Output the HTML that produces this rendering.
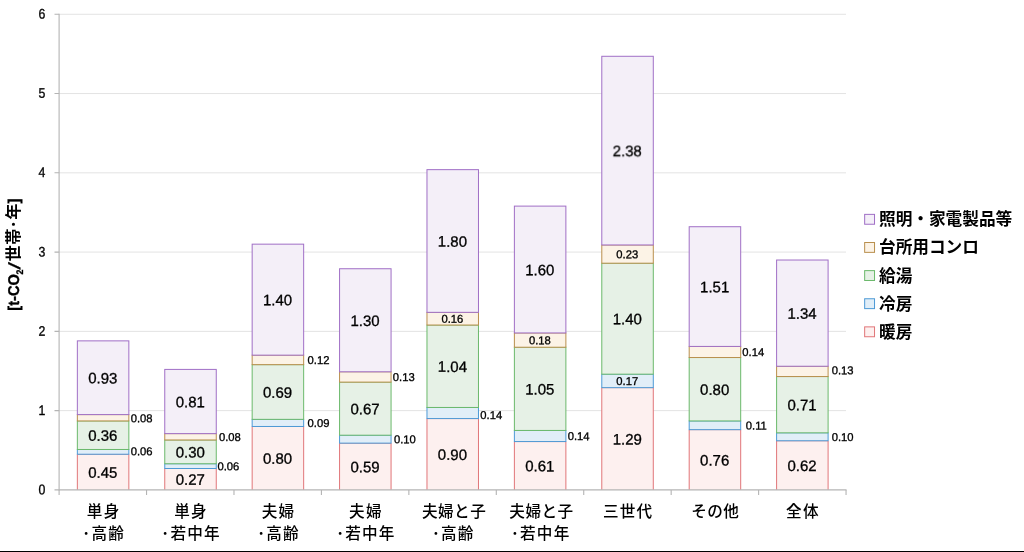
<!DOCTYPE html>
<html lang="ja">
<head>
<meta charset="utf-8">
<title>世帯類型別 用途別CO2排出量</title>
<style>
html,body{margin:0;padding:0;background:#fff;}
body{width:1024px;height:552px;overflow:hidden;font-family:"Liberation Sans",sans-serif;}
svg{display:block;will-change:transform;}
.s0{fill:#fdf0ef;stroke:#e17679;}
.s1{fill:#e1eef8;stroke:#4d9ad6;}
.s2{fill:#e6f1e6;stroke:#6bb96b;}
.s3{fill:#fcf3e6;stroke:#b98f4d;}
.s4{fill:#f4eff8;stroke:#a06fc6;}
.f0{fill:#fdf0ef;stroke:none;}
.l0{fill:none;stroke:#e17679;}
</style>
</head>
<body>
<svg width="1024" height="552" viewBox="0 0 1024 552">
<rect width="1024" height="552" fill="#fff"/>
<g id="gridlines" stroke="#e3e3e3" stroke-width="1">
<line x1="59.1" x2="846.0" y1="410.63" y2="410.63"/>
<line x1="59.1" x2="846.0" y1="331.36" y2="331.36"/>
<line x1="59.1" x2="846.0" y1="252.09" y2="252.09"/>
<line x1="59.1" x2="846.0" y1="172.82" y2="172.82"/>
<line x1="59.1" x2="846.0" y1="93.55" y2="93.55"/>
<line x1="59.1" x2="846.0" y1="14.28" y2="14.28"/>
</g>
<g id="bars" stroke-width="1">
<g class="bar" aria-label="単身・高齢">
<rect class="f0" x="77.35" y="454.23" width="51.50" height="35.67"/>
<path class="l0" d="M77.35 489.90V454.23H128.85V489.90"/>
<rect class="s1" x="77.35" y="449.47" width="51.50" height="4.76"/>
<rect class="s2" x="77.35" y="420.94" width="51.50" height="28.54"/>
<rect class="s3" x="77.35" y="414.59" width="51.50" height="6.34"/>
<rect class="s4" x="77.35" y="340.87" width="51.50" height="73.72"/>
</g>
<g class="bar" aria-label="単身・若中年">
<rect class="f0" x="164.76" y="468.50" width="51.50" height="21.40"/>
<path class="l0" d="M164.76 489.90V468.50H216.26V489.90"/>
<rect class="s1" x="164.76" y="463.74" width="51.50" height="4.76"/>
<rect class="s2" x="164.76" y="439.96" width="51.50" height="23.78"/>
<rect class="s3" x="164.76" y="433.62" width="51.50" height="6.34"/>
<rect class="s4" x="164.76" y="369.41" width="51.50" height="64.21"/>
</g>
<g class="bar" aria-label="夫婦・高齢">
<rect class="f0" x="252.16" y="426.48" width="51.50" height="63.42"/>
<path class="l0" d="M252.16 489.90V426.48H303.66V489.90"/>
<rect class="s1" x="252.16" y="419.35" width="51.50" height="7.13"/>
<rect class="s2" x="252.16" y="364.65" width="51.50" height="54.70"/>
<rect class="s3" x="252.16" y="355.14" width="51.50" height="9.51"/>
<rect class="s4" x="252.16" y="244.16" width="51.50" height="110.98"/>
</g>
<g class="bar" aria-label="夫婦・若中年">
<rect class="f0" x="339.57" y="443.13" width="51.50" height="46.77"/>
<path class="l0" d="M339.57 489.90V443.13H391.07V489.90"/>
<rect class="s1" x="339.57" y="435.20" width="51.50" height="7.93"/>
<rect class="s2" x="339.57" y="382.09" width="51.50" height="53.11"/>
<rect class="s3" x="339.57" y="371.79" width="51.50" height="10.31"/>
<rect class="s4" x="339.57" y="268.74" width="51.50" height="103.05"/>
</g>
<g class="bar" aria-label="夫婦と子・高齢">
<rect class="f0" x="426.97" y="418.56" width="51.50" height="71.34"/>
<path class="l0" d="M426.97 489.90V418.56H478.47V489.90"/>
<rect class="s1" x="426.97" y="407.46" width="51.50" height="11.10"/>
<rect class="s2" x="426.97" y="325.02" width="51.50" height="82.44"/>
<rect class="s3" x="426.97" y="312.34" width="51.50" height="12.68"/>
<rect class="s4" x="426.97" y="169.65" width="51.50" height="142.69"/>
</g>
<g class="bar" aria-label="夫婦と子・若中年">
<rect class="f0" x="514.38" y="441.55" width="51.50" height="48.35"/>
<path class="l0" d="M514.38 489.90V441.55H565.88V489.90"/>
<rect class="s1" x="514.38" y="430.45" width="51.50" height="11.10"/>
<rect class="s2" x="514.38" y="347.21" width="51.50" height="83.23"/>
<rect class="s3" x="514.38" y="332.95" width="51.50" height="14.27"/>
<rect class="s4" x="514.38" y="206.11" width="51.50" height="126.83"/>
</g>
<g class="bar" aria-label="三世代">
<rect class="f0" x="601.79" y="387.64" width="51.50" height="102.26"/>
<path class="l0" d="M601.79 489.90V387.64H653.29V489.90"/>
<rect class="s1" x="601.79" y="374.17" width="51.50" height="13.48"/>
<rect class="s2" x="601.79" y="263.19" width="51.50" height="110.98"/>
<rect class="s3" x="601.79" y="244.96" width="51.50" height="18.23"/>
<rect class="s4" x="601.79" y="56.29" width="51.50" height="188.66"/>
</g>
<g class="bar" aria-label="その他">
<rect class="f0" x="689.19" y="429.65" width="51.50" height="60.25"/>
<path class="l0" d="M689.19 489.90V429.65H740.69V489.90"/>
<rect class="s1" x="689.19" y="420.94" width="51.50" height="8.72"/>
<rect class="s2" x="689.19" y="357.52" width="51.50" height="63.42"/>
<rect class="s3" x="689.19" y="346.42" width="51.50" height="11.10"/>
<rect class="s4" x="689.19" y="226.72" width="51.50" height="119.70"/>
</g>
<g class="bar" aria-label="全体">
<rect class="f0" x="776.60" y="440.75" width="51.50" height="49.15"/>
<path class="l0" d="M776.60 489.90V440.75H828.10V489.90"/>
<rect class="s1" x="776.60" y="432.83" width="51.50" height="7.93"/>
<rect class="s2" x="776.60" y="376.54" width="51.50" height="56.28"/>
<rect class="s3" x="776.60" y="366.24" width="51.50" height="10.31"/>
<rect class="s4" x="776.60" y="260.02" width="51.50" height="106.22"/>
</g>
</g>
<g id="axes" stroke="#b4b4b4" stroke-width="1.1" fill="none">
<path d="M59.10 13.78 V490.40"/>
<path d="M54.50 489.90 H846.55"/>
<path id="ticks" d="M54.50 410.63 H59.10 M54.50 331.36 H59.10 M54.50 252.09 H59.10 M54.50 172.82 H59.10 M54.50 93.55 H59.10 M54.50 14.28 H59.10 M59.10 489.90 V494.90 M146.54 489.90 V494.90 M233.98 489.90 V494.90 M321.42 489.90 V494.90 M408.86 489.90 V494.90 M496.29 489.90 V494.90 M583.73 489.90 V494.90 M671.17 489.90 V494.90 M758.61 489.90 V494.90 M846.05 489.90 V494.90"/>
</g>
<g font-family="'Liberation Sans', sans-serif" fill="#000" stroke="#000" stroke-width="0.33" text-rendering="geometricPrecision" style="filter:grayscale(1)">
<text transform="translate(45.40 494.20) rotate(0.1) scale(0.890 1)" font-size="13.80" text-anchor="end">0</text>
<text transform="translate(45.40 414.93) rotate(0.1) scale(0.890 1)" font-size="13.80" text-anchor="end">1</text>
<text transform="translate(45.40 335.66) rotate(0.1) scale(0.890 1)" font-size="13.80" text-anchor="end">2</text>
<text transform="translate(45.40 256.39) rotate(0.1) scale(0.890 1)" font-size="13.80" text-anchor="end">3</text>
<text transform="translate(45.40 177.12) rotate(0.1) scale(0.890 1)" font-size="13.80" text-anchor="end">4</text>
<text transform="translate(45.40 97.85) rotate(0.1) scale(0.890 1)" font-size="13.80" text-anchor="end">5</text>
<text transform="translate(45.40 18.58) rotate(0.1) scale(0.890 1)" font-size="13.80" text-anchor="end">6</text>
<text transform="translate(102.80 477.71) rotate(0.1) scale(0.985 1)" font-size="15.20" text-anchor="middle">0.45</text>
<text transform="translate(130.65 455.25) rotate(0.1) scale(0.985 1)" font-size="11.40" text-anchor="start">0.06</text>
<text transform="translate(102.80 440.85) rotate(0.1) scale(0.985 1)" font-size="15.20" text-anchor="middle">0.36</text>
<text transform="translate(130.65 422.16) rotate(0.1) scale(0.985 1)" font-size="11.40" text-anchor="start">0.08</text>
<text transform="translate(102.80 383.38) rotate(0.1) scale(0.985 1)" font-size="15.20" text-anchor="middle">0.93</text>
<text transform="translate(190.21 484.85) rotate(0.1) scale(0.985 1)" font-size="15.20" text-anchor="middle">0.27</text>
<text transform="translate(217.46 470.22) rotate(0.1) scale(0.985 1)" font-size="11.40" text-anchor="start">0.06</text>
<text transform="translate(190.21 457.50) rotate(0.1) scale(0.985 1)" font-size="15.20" text-anchor="middle">0.30</text>
<text transform="translate(218.96 440.89) rotate(0.1) scale(0.985 1)" font-size="11.40" text-anchor="start">0.08</text>
<text transform="translate(190.21 407.16) rotate(0.1) scale(0.985 1)" font-size="15.20" text-anchor="middle">0.81</text>
<text transform="translate(277.61 463.84) rotate(0.1) scale(0.985 1)" font-size="15.20" text-anchor="middle">0.80</text>
<text transform="translate(307.56 427.02) rotate(0.1) scale(0.985 1)" font-size="11.40" text-anchor="start">0.09</text>
<text transform="translate(277.61 397.65) rotate(0.1) scale(0.985 1)" font-size="15.20" text-anchor="middle">0.69</text>
<text transform="translate(307.56 364.00) rotate(0.1) scale(0.985 1)" font-size="11.40" text-anchor="start">0.12</text>
<text transform="translate(277.61 305.30) rotate(0.1) scale(0.985 1)" font-size="15.20" text-anchor="middle">1.40</text>
<text transform="translate(365.02 472.17) rotate(0.1) scale(0.985 1)" font-size="15.20" text-anchor="middle">0.59</text>
<text transform="translate(393.97 443.27) rotate(0.1) scale(0.985 1)" font-size="11.40" text-anchor="start">0.10</text>
<text transform="translate(365.02 414.30) rotate(0.1) scale(0.985 1)" font-size="15.20" text-anchor="middle">0.67</text>
<text transform="translate(392.87 381.04) rotate(0.1) scale(0.985 1)" font-size="11.40" text-anchor="start">0.13</text>
<text transform="translate(365.02 325.91) rotate(0.1) scale(0.985 1)" font-size="15.20" text-anchor="middle">1.30</text>
<text transform="translate(452.42 459.88) rotate(0.1) scale(0.985 1)" font-size="15.20" text-anchor="middle">0.90</text>
<text transform="translate(480.37 419.01) rotate(0.1) scale(0.985 1)" font-size="11.40" text-anchor="start">0.14</text>
<text transform="translate(452.42 371.89) rotate(0.1) scale(0.985 1)" font-size="15.20" text-anchor="middle">1.04</text>
<text transform="translate(452.42 322.78) rotate(0.1) scale(0.985 1)" font-size="11.40" text-anchor="middle">0.16</text>
<text transform="translate(452.42 246.64) rotate(0.1) scale(0.985 1)" font-size="15.20" text-anchor="middle">1.80</text>
<text transform="translate(539.83 471.37) rotate(0.1) scale(0.985 1)" font-size="15.20" text-anchor="middle">0.61</text>
<text transform="translate(567.68 440.10) rotate(0.1) scale(0.985 1)" font-size="11.40" text-anchor="start">0.14</text>
<text transform="translate(539.83 394.48) rotate(0.1) scale(0.985 1)" font-size="15.20" text-anchor="middle">1.05</text>
<text transform="translate(539.83 344.18) rotate(0.1) scale(0.985 1)" font-size="11.40" text-anchor="middle">0.18</text>
<text transform="translate(539.83 275.18) rotate(0.1) scale(0.985 1)" font-size="15.20" text-anchor="middle">1.60</text>
<text transform="translate(627.24 444.42) rotate(0.1) scale(0.985 1)" font-size="15.20" text-anchor="middle">1.29</text>
<text transform="translate(627.24 385.00) rotate(0.1) scale(0.985 1)" font-size="11.40" text-anchor="middle">0.17</text>
<text transform="translate(627.24 324.33) rotate(0.1) scale(0.985 1)" font-size="15.20" text-anchor="middle">1.40</text>
<text transform="translate(627.24 258.17) rotate(0.1) scale(0.985 1)" font-size="11.40" text-anchor="middle">0.23</text>
<text transform="translate(627.24 156.27) rotate(0.1) scale(0.985 1)" font-size="15.20" text-anchor="middle">2.38</text>
<text transform="translate(714.64 465.43) rotate(0.1) scale(0.985 1)" font-size="15.20" text-anchor="middle">0.76</text>
<text transform="translate(745.79 429.39) rotate(0.1) scale(0.985 1)" font-size="11.40" text-anchor="start">0.11</text>
<text transform="translate(714.64 394.88) rotate(0.1) scale(0.985 1)" font-size="15.20" text-anchor="middle">0.80</text>
<text transform="translate(742.29 356.07) rotate(0.1) scale(0.985 1)" font-size="11.40" text-anchor="start">0.14</text>
<text transform="translate(714.64 292.22) rotate(0.1) scale(0.985 1)" font-size="15.20" text-anchor="middle">1.51</text>
<text transform="translate(802.05 470.98) rotate(0.1) scale(0.985 1)" font-size="15.20" text-anchor="middle">0.62</text>
<text transform="translate(831.70 440.89) rotate(0.1) scale(0.985 1)" font-size="11.40" text-anchor="start">0.10</text>
<text transform="translate(802.05 410.33) rotate(0.1) scale(0.985 1)" font-size="15.20" text-anchor="middle">0.71</text>
<text transform="translate(831.70 374.29) rotate(0.1) scale(0.985 1)" font-size="11.40" text-anchor="start">0.13</text>
<text transform="translate(802.05 318.78) rotate(0.1) scale(0.985 1)" font-size="15.20" text-anchor="middle">1.34</text>
</g>
<g id="category-labels" font-family="'Liberation Sans', 'Noto Sans CJK JP', sans-serif" font-size="15.6" font-weight="500" fill="#000" letter-spacing="1.25">
<text x="86.87" y="517.20">単身</text>
<text x="82.35" y="538.70">･高齢</text>
<text x="174.28" y="517.20">単身</text>
<text x="161.33" y="538.70">･若中年</text>
<text x="261.68" y="517.20">夫婦</text>
<text x="257.16" y="538.70">･高齢</text>
<text x="349.09" y="517.20">夫婦</text>
<text x="336.14" y="538.70">･若中年</text>
<text x="421.92" y="517.20" letter-spacing="0.5">夫婦と子</text>
<text x="431.97" y="538.70">･高齢</text>
<text x="509.33" y="517.20" letter-spacing="0.5">夫婦と子</text>
<text x="510.95" y="538.70">･若中年</text>
<text x="602.88" y="517.20">三世代</text>
<text x="691.18" y="517.20" letter-spacing="0.5">その他</text>
<text x="786.12" y="517.20">全体</text>
</g>
<g id="legend">
<rect class="s4" x="864.66" y="214.37" width="9.87" height="9.87" stroke-width="1"/>
<text x="879.00" y="225.30" font-family="'Liberation Sans', 'Noto Sans CJK JP', sans-serif" font-size="16.67" font-weight="bold" fill="#000">照明・家電製品等</text>
<rect class="s3" x="864.66" y="242.50" width="9.87" height="9.87" stroke-width="1"/>
<text x="879.00" y="253.43" font-family="'Liberation Sans', 'Noto Sans CJK JP', sans-serif" font-size="16.67" font-weight="bold" fill="#000">台所用コンロ</text>
<rect class="s2" x="864.66" y="270.62" width="9.87" height="9.87" stroke-width="1"/>
<text x="879.00" y="281.55" font-family="'Liberation Sans', 'Noto Sans CJK JP', sans-serif" font-size="16.67" font-weight="bold" fill="#000">給湯</text>
<rect class="s1" x="864.66" y="298.75" width="9.87" height="9.87" stroke-width="1"/>
<text x="879.00" y="309.68" font-family="'Liberation Sans', 'Noto Sans CJK JP', sans-serif" font-size="16.67" font-weight="bold" fill="#000">冷房</text>
<rect class="s0" x="864.66" y="326.87" width="9.87" height="9.87" stroke-width="1"/>
<text x="879.00" y="337.80" font-family="'Liberation Sans', 'Noto Sans CJK JP', sans-serif" font-size="16.67" font-weight="bold" fill="#000">暖房</text>
</g>
<g id="y-axis-title" transform="translate(19.40 311.00) rotate(-90)">
<g font-family="'Liberation Sans', sans-serif" font-weight="bold" fill="#000" stroke="#000" stroke-width="0.35" font-size="15.6" text-rendering="geometricPrecision" style="filter:grayscale(1)">
<text x="0.3" y="0" textLength="36.5" lengthAdjust="spacingAndGlyphs">[t-CO</text>
<text x="36.6" y="3.2" font-size="9.6" textLength="4.9" lengthAdjust="spacingAndGlyphs">2</text>
<text transform="translate(41.3 0.3) skewX(-14) scale(1.15 1.04)">/</text>
<text x="107.6" y="0" textLength="5.0" lengthAdjust="spacingAndGlyphs">]</text>
</g>
<text x="49.70" y="0" font-family="'Liberation Sans', 'Noto Sans CJK JP', sans-serif" font-size="16.2" font-weight="bold" fill="#000" textLength="57.8" lengthAdjust="spacing">世帯･年</text>
</g>
<rect x="0" y="551" width="1024" height="1" fill="#000"/>
</svg>
</body>
</html>
